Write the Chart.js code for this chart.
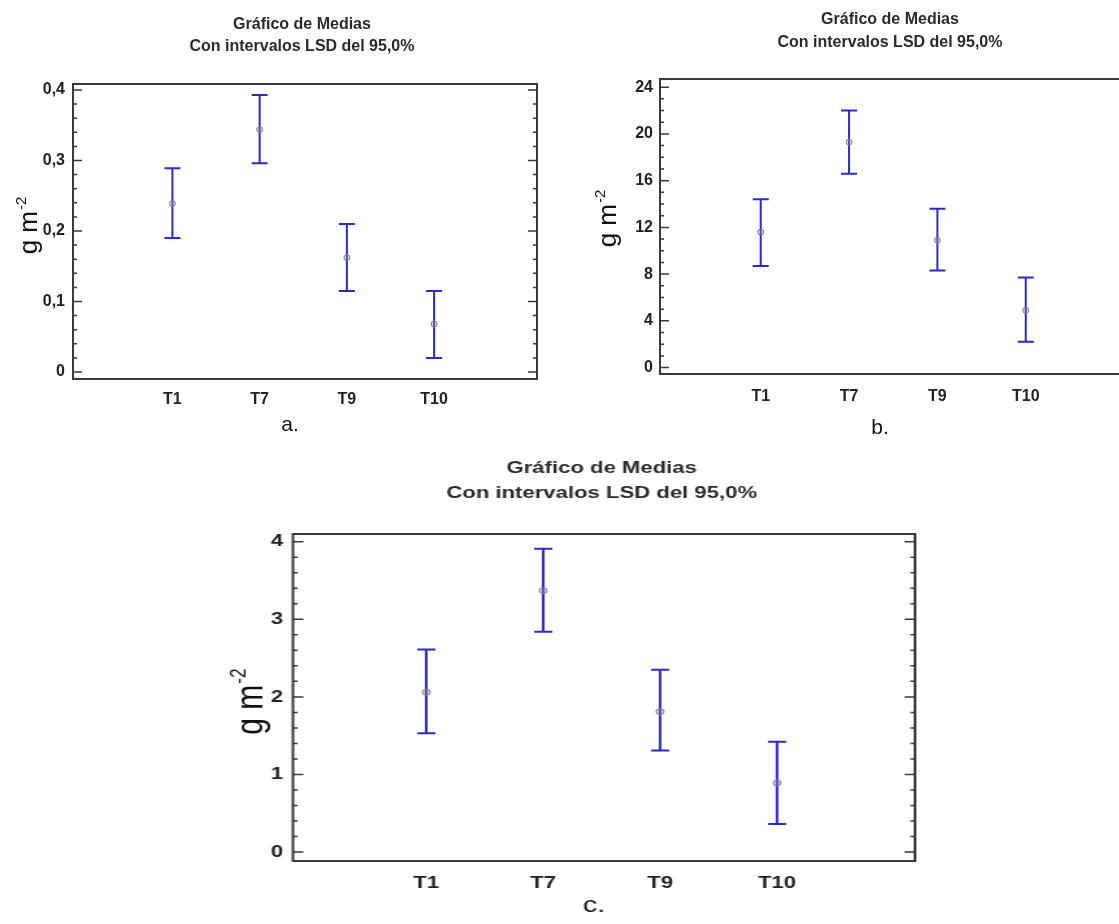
<!DOCTYPE html>
<html>
<head>
<meta charset="utf-8">
<title>Gráfico de Medias</title>
<script src="https://cdn.jsdelivr.net/npm/chart.js@4.4.0/dist/chart.umd.min.js"></script>
<style>
  html, body { margin: 0; padding: 0; background: #fff; width: 1119px; height: 924px; overflow: hidden; }
  body { position: relative; }
  canvas { position: absolute; }
  #chartA { left: 0; top: 0; }
  #chartB { left: 560px; top: 0; }
  /* the bottom panel is printed wider than it is tall */
  #chartC { left: 200px; top: 440px; transform: scaleX(1.3); transform-origin: 0 0; }
</style>
</head>
<body>
<canvas id="chartA" width="560" height="445"></canvas>
<canvas id="chartB" width="600" height="445"></canvas>
<canvas id="chartC" width="585" height="484"></canvas>
<script>
const treatments = ['T1', 'T7', 'T9', 'T10'];
const titleLines = ['Gráfico de Medias', 'Con intervalos LSD del 95,0%'];
const unitLabel = 'g m';
const unitExponent = '-2';

// a. means with 95% LSD limits
const meansA = [0.239, 0.344, 0.162, 0.068];
const lowerA = [0.190, 0.296, 0.115, 0.020];
const upperA = [0.289, 0.393, 0.210, 0.115];
const ticksA = [0, 0.1, 0.2, 0.3, 0.4];
const tickLabelsA = ['0', '0,1', '0,2', '0,3', '0,4'];

// b.
const meansB = [11.6, 19.3, 10.9, 4.9];
const lowerB = [8.7, 16.6, 8.3, 2.2];
const upperB = [14.4, 22.0, 13.6, 7.7];
const ticksB = [0, 4, 8, 12, 16, 20, 24];
const tickLabelsB = ['0', '4', '8', '12', '16', '20', '24'];

// c.
const meansC = [2.06, 3.37, 1.81, 0.89];
const lowerC = [1.53, 2.84, 1.31, 0.36];
const upperC = [2.61, 3.91, 2.35, 1.42];
const ticksC = [0, 1, 2, 3, 4];
const tickLabelsC = ['0', '1', '2', '3', '4'];

const FONT = "'Liberation Sans', Arial, sans-serif";
const NARROW = "'Liberation Sans Narrow', 'Liberation Sans', Arial, sans-serif";
const BAR_COLOR = '#2b2bc6';

Chart.defaults.font.family = FONT;
Chart.defaults.color = '#222';

// error bars, box frame, inward ticks, titles and axis label
const decorations = {
  id: 'decorations',
  beforeDatasetsDraw(chart, args, o) {
    const { ctx, scales: { x, y } } = chart;
    ctx.save();
    ctx.strokeStyle = BAR_COLOR;
    ctx.lineWidth = o.barWidth;
    o.lower.forEach((lo, i) => {
      const px = x.getPixelForValue(i);
      const yLo = y.getPixelForValue(lo);
      const yHi = y.getPixelForValue(o.upper[i]);
      ctx.beginPath();
      ctx.moveTo(px, yLo);
      ctx.lineTo(px, yHi);
      ctx.moveTo(px - o.cap, yLo);
      ctx.lineTo(px + o.cap, yLo);
      ctx.moveTo(px - o.cap, yHi);
      ctx.lineTo(px + o.cap, yHi);
      ctx.stroke();
    });
    ctx.restore();
  },
  afterDraw(chart, args, o) {
    const { ctx, chartArea: a, scales: { y } } = chart;
    ctx.save();

    ctx.strokeStyle = '#3a3a3a';
    ctx.lineWidth = 2;
    ctx.strokeRect(a.left, a.top, a.right - a.left, a.bottom - a.top);

    ctx.lineWidth = 1.5;
    const majors = y.ticks.map(t => t.value);
    const step = (majors[1] - majors[0]) / (o.minor + 1);
    const mark = (v, len) => {
      const py = y.getPixelForValue(v);
      ctx.beginPath();
      ctx.moveTo(a.left, py);
      ctx.lineTo(a.left + len, py);
      ctx.moveTo(a.right, py);
      ctx.lineTo(a.right - len, py);
      ctx.stroke();
    };
    majors.forEach(v => {
      mark(v, o.tickLen);
      for (let j = 1; j <= o.minor; j++) {
        const mv = v + j * step;
        if (mv < y.max) mark(mv, o.tickLen * 0.45);
      }
    });

    ctx.fillStyle = '#2a2a2a';
    ctx.textAlign = 'center';
    ctx.textBaseline = 'middle';
    ctx.font = `bold ${o.titleSize}px ${FONT}`;
    titleLines.forEach((line, i) => ctx.fillText(line, o.titleX, o.titleY[i]));

    ctx.font = `${o.letterSize}px ${NARROW}`;
    ctx.fillStyle = '#111';
    ctx.fillText(o.letter, o.letterX, o.letterY);

    // rotated unit label with superscript exponent
    ctx.translate(o.unitX, o.unitY);
    ctx.rotate(-Math.PI / 2);
    ctx.textAlign = 'left';
    ctx.textBaseline = 'alphabetic';
    ctx.font = `${o.unitSize}px ${FONT}`;
    const w1 = ctx.measureText(unitLabel).width;
    ctx.font = `${o.unitSize * 0.58}px ${FONT}`;
    const w2 = ctx.measureText(unitExponent).width;
    const sx = -(w1 + w2) / 2;
    const base = o.unitSize * 0.3;
    ctx.font = `${o.unitSize}px ${FONT}`;
    ctx.fillText(unitLabel, sx, base);
    ctx.font = `${o.unitSize * 0.58}px ${FONT}`;
    ctx.fillText(unitExponent, sx + w1 + 1, base - o.unitSize * 0.42);

    ctx.restore();
  }
};

function buildChart(id, cfg) {
  return new Chart(document.getElementById(id), {
    type: 'scatter',
    data: {
      datasets: [{
        data: cfg.means.map((m, i) => ({ x: i, y: m })),
        pointRadius: cfg.pointRadius,
        pointBackgroundColor: 'rgba(150,150,168,0.35)',
        pointBorderColor: '#7c7c8c',
        pointBorderWidth: 1
      }]
    },
    options: {
      responsive: false,
      animation: false,
      devicePixelRatio: 1,
      layout: { padding: { top: cfg.top, right: cfg.right, left: 0, bottom: 0 } },
      plugins: {
        legend: { display: false },
        tooltip: { enabled: false },
        decorations: cfg.deco
      },
      scales: {
        x: {
          type: 'linear',
          min: -1.14,
          max: 4.18,
          grid: { display: false, drawTicks: false },
          border: { display: false },
          afterBuildTicks: s => { s.ticks = treatments.map((_, i) => ({ value: i })); },
          afterFit: s => { s.height = cfg.xHeight; },
          ticks: {
            callback: v => treatments[v],
            autoSkip: false,
            maxRotation: 0,
            padding: cfg.xPad,
            color: '#222',
            font: { size: cfg.fontSize, weight: 'bold' }
          }
        },
        y: {
          min: cfg.min,
          max: cfg.max,
          grid: { display: false, drawTicks: false },
          border: { display: false },
          afterBuildTicks: s => { s.ticks = cfg.ticks.map(v => ({ value: v })); },
          afterFit: s => { s.width = cfg.left; },
          ticks: {
            callback: (v, i) => cfg.tickLabels[i],
            padding: cfg.yPad,
            color: '#222',
            font: { size: cfg.fontSize, weight: 'bold' }
          }
        }
      }
    },
    plugins: [decorations]
  });
}

buildChart('chartA', {
  means: meansA, ticks: ticksA, tickLabels: tickLabelsA,
  min: -0.0099, max: 0.4085,
  top: 84, right: 23, left: 73, xHeight: 66,
  xPad: 11, yPad: 8, fontSize: 16, pointRadius: 3,
  deco: {
    lower: lowerA, upper: upperA, cap: 8, barWidth: 2, minor: 4, tickLen: 9,
    titleX: 302, titleY: [25, 47], titleSize: 16,
    letter: 'a.', letterX: 290, letterY: 425, letterSize: 21,
    unitX: 29, unitY: 226, unitSize: 26
  }
});

buildChart('chartB', {
  means: meansB, ticks: ticksB, tickLabels: tickLabelsB,
  min: -0.55, max: 24.7,
  top: 79, right: 30, left: 100, xHeight: 71,
  xPad: 13, yPad: 7, fontSize: 16, pointRadius: 3,
  deco: {
    lower: lowerB, upper: upperB, cap: 8, barWidth: 2, minor: 3, tickLen: 9,
    titleX: 330, titleY: [20, 43], titleSize: 16,
    letter: 'b.', letterX: 320, letterY: 428, letterSize: 21,
    unitX: 48, unitY: 219, unitSize: 26
  }
});

buildChart('chartC', {
  means: meansC, ticks: ticksC, tickLabels: tickLabelsC,
  min: -0.116, max: 4.10,
  top: 94, right: 35, left: 71.5, xHeight: 63,
  xPad: 12, yPad: 7.5, fontSize: 17, pointRadius: 3,
  deco: {
    lower: lowerC, upper: upperC, cap: 7, barWidth: 2, minor: 4, tickLen: 8,
    titleX: 309, titleY: [28, 53], titleSize: 17,
    letter: 'c.', letterX: 303, letterY: 466, letterSize: 22,
    unitX: 38.5, unitY: 262, unitSize: 30
  }
});
</script>
</body>
</html>
